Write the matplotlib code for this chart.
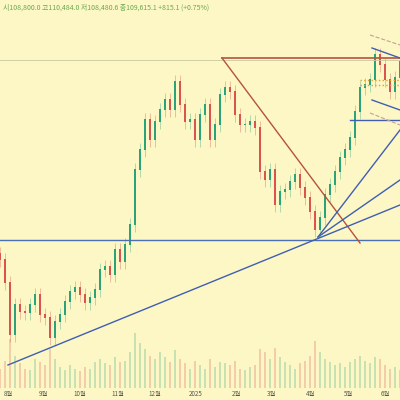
import matplotlib
matplotlib.use("Agg")
import matplotlib.pyplot as plt
import numpy as np

plt.rcParams['font.family'] = ['Noto Sans CJK KR', 'DejaVu Sans']

closes = [65320, 60306, 48970, 55510, 53984, 53766, 55510, 57690, 53330, 52676,
          48316, 51804, 53330, 56164, 58344, 59216, 57690, 55946, 57036, 58780,
          63140, 63794, 62050, 67500, 64884, 68590, 72950, 84940, 89300, 95840,
          91480, 95404, 98020, 100200, 98020, 104124, 99110, 95404, 95840, 91480,
          96930, 99110, 91480, 94750, 101290, 102816, 101944, 96930, 94750, 94750,
          95404, 94096, 84504, 82760, 84940, 77310, 80144, 80580, 82324, 83850,
          81016, 78836, 75784, 71860, 74476, 79490, 81670, 84504, 87556, 89300,
          91916, 97584, 102816, 103470, 104560, 110010, 107830, 104560, 101944, 104996,
          108484]
volumes = [30, 42, 75, 50, 38, 30, 28, 45, 40, 35, 60, 45, 32, 28, 35, 30, 26, 33, 30, 40,
           45, 38, 35, 48, 40, 42, 55, 85, 70, 60, 50, 45, 55, 48, 40, 58, 45, 38, 30, 42,
           35, 30, 45, 33, 40, 38, 35, 42, 30, 28, 32, 36, 60, 55, 45, 62, 48, 40, 35, 30,
           38, 42, 50, 72, 55, 45, 40, 35, 38, 32, 40, 45, 50, 42, 38, 48, 45, 35, 30, 33, 28]
month_labels = ['8월', '9월', '10월', '11월', '12월', '2025', '2월', '3월', '4월', '5월', '6월']
month_pos = [3, 43, 80, 118, 155, 196, 236, 271, 310, 348, 385]

def py(y):
    return 122000 - 218 * y

up_c, dn_c = '#2aa37a', '#d9534f'
bg = '#fdf7c6'
fig = plt.figure(figsize=(4, 4), dpi=100, facecolor=bg)
ax = fig.add_axes([0, 0, 1, 1], facecolor=bg)
ax.set_xlim(0, 400)
ax.set_ylim(py(400), py(0))
ax.axis('off')

step = 5
xs = np.arange(len(closes)) * step
opens = [closes[0] * 1.02] + closes[:-1]
for x, o, c in zip(xs, opens, closes):
    col = up_c if c >= o else dn_c
    hi = max(o, c) + 1500
    lo = min(o, c) - 1500
    ax.vlines(x, lo, hi, color=col, lw=0.5, alpha=0.5)
    ax.bar(x, abs(c - o) + 200, bottom=min(o, c), width=1.6, color=col)

# volume
vax = ax.twinx()
vax.axis('off')
vmax = max(volumes)
vax.set_ylim(0, vmax * 400 / 55)
vcols = [up_c if c >= o else dn_c for o, c in zip(opens, closes)]
vax.bar(xs, volumes, bottom=vmax * 12 / 55, width=1.6, color=vcols, alpha=0.25)

# annotation lines
ax.axhline(py(60), color='#c8c8a0', lw=0.6)
ax.axhline(py(240), color='#4a6fb5', lw=1.0)
ax.plot([222, 400], [py(58), py(58)], color='#b5533c', lw=1.2)
ax.plot([222, 360], [py(58), py(243)], color='#b5533c', lw=1.0)
ax.plot([8, 400], [py(365), py(205)], color='#3f5fb0', lw=1.0)
ax.plot([318, 400], [py(237), py(130)], color='#3f5fb0', lw=1.0)
ax.plot([318, 400], [py(237), py(180)], color='#3f5fb0', lw=1.0)
ax.plot([350, 400], [py(120), py(120)], color='#3f5fb0', lw=1.0)
ax.plot([372, 400], [py(48), py(58)], color='#3f5fb0', lw=1.0)
ax.plot([372, 400], [py(100), py(110)], color='#3f5fb0', lw=1.0)
ax.plot([370, 400], [py(35), py(45)], color='#c8a090', lw=0.8, ls='--')
ax.plot([370, 400], [py(113), py(125)], color='#c8a090', lw=0.8, ls='--')
ax.plot([360, 400], [py(80), py(80)], color='#e0a030', lw=1.0, ls=':')
ax.plot([360, 400], [py(85), py(85)], color='#e0a030', lw=1.0, ls=':')

for lab, p in zip(month_labels, month_pos):
    ax.text(max(p, 8), py(394), lab, fontsize=4.5, ha='center', va='center', color='#555555')
ax.text(3, py(8), '시108,800.0 고110,484.0 저108,480.6 종109,615.1 +815.1 (+0.75%)',
        fontsize=5, color='#6aa84f', va='center', ha='left')

fig.savefig('out.png', dpi=100, facecolor=bg)
